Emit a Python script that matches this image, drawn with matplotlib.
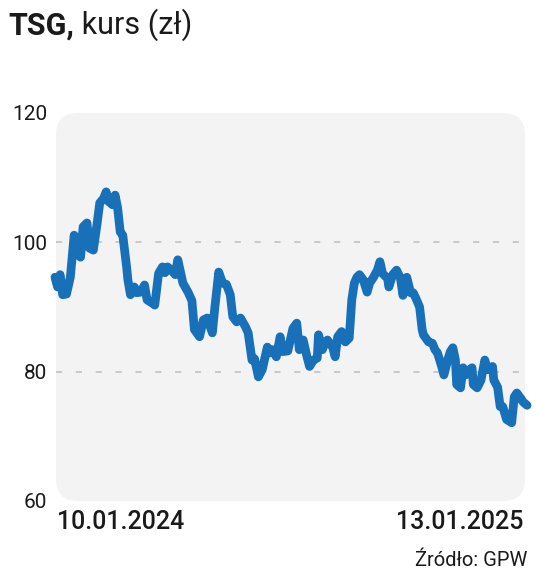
import matplotlib
matplotlib.use("Agg")
import matplotlib.pyplot as plt
from matplotlib.patches import FancyBboxPatch

plt.rcParams["font.family"] = ["Roboto", "DejaVu Sans"]

# days since 10.01.2024 and closing price (zł)
DAYS = [0, 2, 4, 6, 9, 12, 15, 17, 20, 22, 25, 27, 30, 33, 35, 38, 40, 42, 45, 47,
        49, 51, 53, 56, 57, 59, 62, 64, 67, 70, 72, 76, 78, 81, 84, 86, 88, 91, 94, 96,
        100, 104, 107, 109, 113, 116, 119, 123, 125, 128, 131, 134, 137, 139, 142, 145,
        149, 151, 154, 156, 159, 162, 166, 168, 170, 173, 176, 178, 182, 186, 189, 191,
        194, 197, 199, 202, 205, 206, 209, 211, 213, 217, 219, 221, 224, 227, 230, 232,
        234, 236, 238, 241, 244, 246, 249, 252, 254, 256, 260, 261, 264, 267, 270, 272,
        275, 278, 280, 282, 285, 287, 288, 292, 295, 297, 299, 303, 304, 307, 309, 311,
        313, 314, 317, 319, 321, 324, 326, 327, 330, 333, 336, 338, 342, 343, 346, 348,
        350, 353, 357, 359, 361, 364, 366, 369]
PRICE = [94.6, 93.1, 95.0, 91.9, 92.0, 94.6, 101.1, 98.3, 97.7, 102.4, 103.0, 99.1,
         98.8, 103.0, 106.1, 106.8, 107.8, 106.3, 105.8, 107.3, 105.3, 101.6, 101.1,
         96.2, 94.2, 91.9, 93.1, 92.2, 92.3, 93.4, 91.1, 90.6, 90.3, 95.2, 96.2, 95.3,
         96.2, 95.7, 95.0, 97.3, 93.7, 92.3, 91.0, 86.5, 85.4, 88.0, 88.3, 86.0, 90.0,
         95.4, 93.7, 93.5, 91.9, 88.5, 87.7, 88.3, 86.9, 86.0, 81.8, 82.0, 79.2, 80.3,
         83.8, 82.9, 83.4, 82.3, 85.4, 83.1, 83.2, 86.7, 87.5, 83.4, 84.9, 82.3, 80.8,
         81.8, 82.1, 85.7, 83.4, 84.4, 84.9, 83.8, 82.3, 85.4, 86.2, 84.6, 85.2, 91.1,
         93.7, 94.6, 95.0, 94.2, 92.3, 93.7, 94.6, 95.7, 97.0, 95.2, 94.4, 93.1, 95.0,
         95.7, 94.5, 91.8, 94.6, 92.2, 92.2, 91.4, 90.0, 86.5, 85.7, 84.6, 84.4, 83.4,
         82.9, 80.3, 79.5, 81.8, 83.1, 83.7, 81.8, 78.0, 77.5, 80.6, 79.5, 80.3, 80.6,
         78.0, 77.5, 78.7, 81.8, 80.3, 80.8, 78.7, 77.6, 74.6, 74.6, 72.6, 72.1, 76.1,
         76.7, 75.9, 75.3, 74.8]

Y_TICKS = [60, 80, 100, 120]
GRID_AT = [80, 100]
FIRST_LABEL = "10.01.2024"
LAST_LABEL = "13.01.2025"

BLUE = "#1870b8"
PANEL = "#f3f3f3"
INK = "#1a1a1a"

W, H = 536, 572
fig = plt.figure(figsize=(W / 100, H / 100), dpi=100)

# panel area in pixels
px0, px1, py_top, py_bot = 56, 525, 113, 501
rect = [px0 / W, 1 - py_bot / H, (px1 - px0) / W, (py_bot - py_top) / H]

# background panel with round corners (pixel units so corners stay circular)
bg = fig.add_axes(rect)
bg.set_xlim(0, px1 - px0)
bg.set_ylim(0, py_bot - py_top)
bg.axis("off")
bg.add_patch(FancyBboxPatch((0, 0), px1 - px0, py_bot - py_top,
                            boxstyle="round,pad=0,rounding_size=22",
                            facecolor=PANEL, edgecolor="none"))

ax = fig.add_axes(rect)
ax.patch.set_alpha(0)
for s in ax.spines.values():
    s.set_visible(False)
ax.set_xlim(0.8, 367.4)
ax.set_ylim(60, 120)

for g in GRID_AT:
    ax.axhline(g, color="#bdbdbd", lw=1.1, dashes=(4, 9), zorder=1)

ax.plot(DAYS, PRICE, color=BLUE, lw=6.3, solid_joinstyle="round",
        solid_capstyle="round", clip_on=False, zorder=3)

ax.set_xticks([])
ax.set_yticks(Y_TICKS)
ax.set_yticklabels([str(t) for t in Y_TICKS], fontsize=15, color=INK)
ax.tick_params(axis="y", length=0, pad=6.5)

# date labels under the panel
fig.text(57 / W, 1 - 522 / H, FIRST_LABEL, ha="left", va="center",
         fontsize=18, fontweight="medium", color=INK)
fig.text(524 / W, 1 - 522 / H, LAST_LABEL, ha="right", va="center",
         fontsize=18, fontweight="medium", color=INK)
fig.text(527 / W, 1 - 560 / H, "Źródło: GPW", ha="right", va="center",
         fontsize=14.5, color=INK)

# title: bold ticker + regular rest
t1 = fig.text(8 / W, 1 - 35 / H, "TSG,", ha="left", va="baseline",
              fontsize=22, fontweight="bold", color=INK)
ax.annotate(" kurs (zł)", xy=(1, 0), xycoords=t1, va="bottom", ha="left",
            fontsize=22, color=INK, annotation_clip=False)

fig.savefig("out.png", dpi=100)
